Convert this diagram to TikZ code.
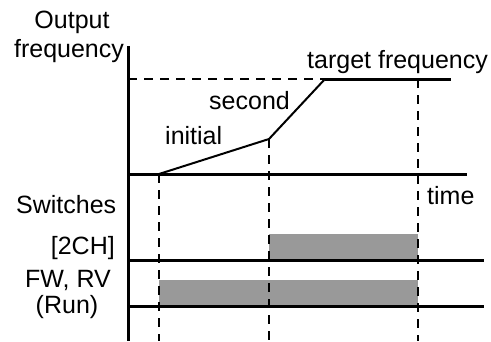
\documentclass[tikz,border=0pt]{standalone}
\usepackage{fontspec}
\setmainfont{Liberation Sans}
\begin{document}
\begin{tikzpicture}[x=1pt,y=-1pt,
  lbl/.style={inner sep=0pt,font=\fontsize{25}{30}\selectfont},
  axisline/.style={line width=3pt},
  rampline/.style={line width=2pt},
  guide/.style={line width=2.2pt,dash pattern=on 9pt off 7pt},
  bar/.style={fill=bargray,draw=none}]
\definecolor{bargray}{RGB}{153,153,153}
\useasboundingbox (0,0) rectangle (491,341);
% coordinates
\coordinate (ytop) at (128,46);
\coordinate (ybot) at (128,341);
\coordinate (t0) at (128,174);
\coordinate (t1) at (467,174);
\coordinate (l1a) at (128,260);
\coordinate (l1b) at (484,260);
\coordinate (l2a) at (128,306);
\coordinate (l2b) at (484,306);
\coordinate (fa) at (128,79);
\coordinate (fb) at (325,79);
\coordinate (fc) at (451,79);
\coordinate (r0) at (159,174);
\coordinate (r1) at (269,139);
\coordinate (v0b) at (159,341);
\coordinate (v1b) at (269,341);
\coordinate (v2t) at (418,79);
\coordinate (v2b) at (418,341);
% bars
\fill[bar] (269,234) rectangle (418,260);
\fill[bar] (159,280) rectangle (418,306);
% guides
\draw[guide] (fa) -- (fb);
\draw[guide] (r0) -- (v0b);
\draw[guide] (r1) -- (v1b);
\draw[guide] (v2t) -- (v2b);
% axes and lanes
\draw[axisline] (ytop) -- (ybot);
\draw[axisline] (t0) -- (t1);
\draw[axisline] (l1a) -- (l1b);
\draw[axisline] (l2a) -- (l2b);
\draw[axisline] (fb) -- (fc);
% ramp
\draw[rampline,line join=miter] (r0) -- (r1) -- (fb);
% labels
\node[lbl,anchor=base] (out) at (72,28) {Output};
\node[lbl,anchor=base] (freq) at (69,57) {frequency};
\node[lbl,anchor=base west] (target) at (307,68) {target frequency};
\node[lbl,anchor=base west] (second) at (209,109) {second};
\node[lbl,anchor=base west] (initial) at (165,144) {initial};
\node[lbl,anchor=base west] (sw) at (16,213) {Switches};
\node[lbl,anchor=base east] (ch) at (115,254) {[2CH]};
\node[lbl,anchor=base] (fw) at (68,287) {FW, RV};
\node[lbl,anchor=base] (run) at (67,313) {(Run)};
\node[lbl,anchor=base west] (time) at (427,204) {time};
\end{tikzpicture}
\end{document}
